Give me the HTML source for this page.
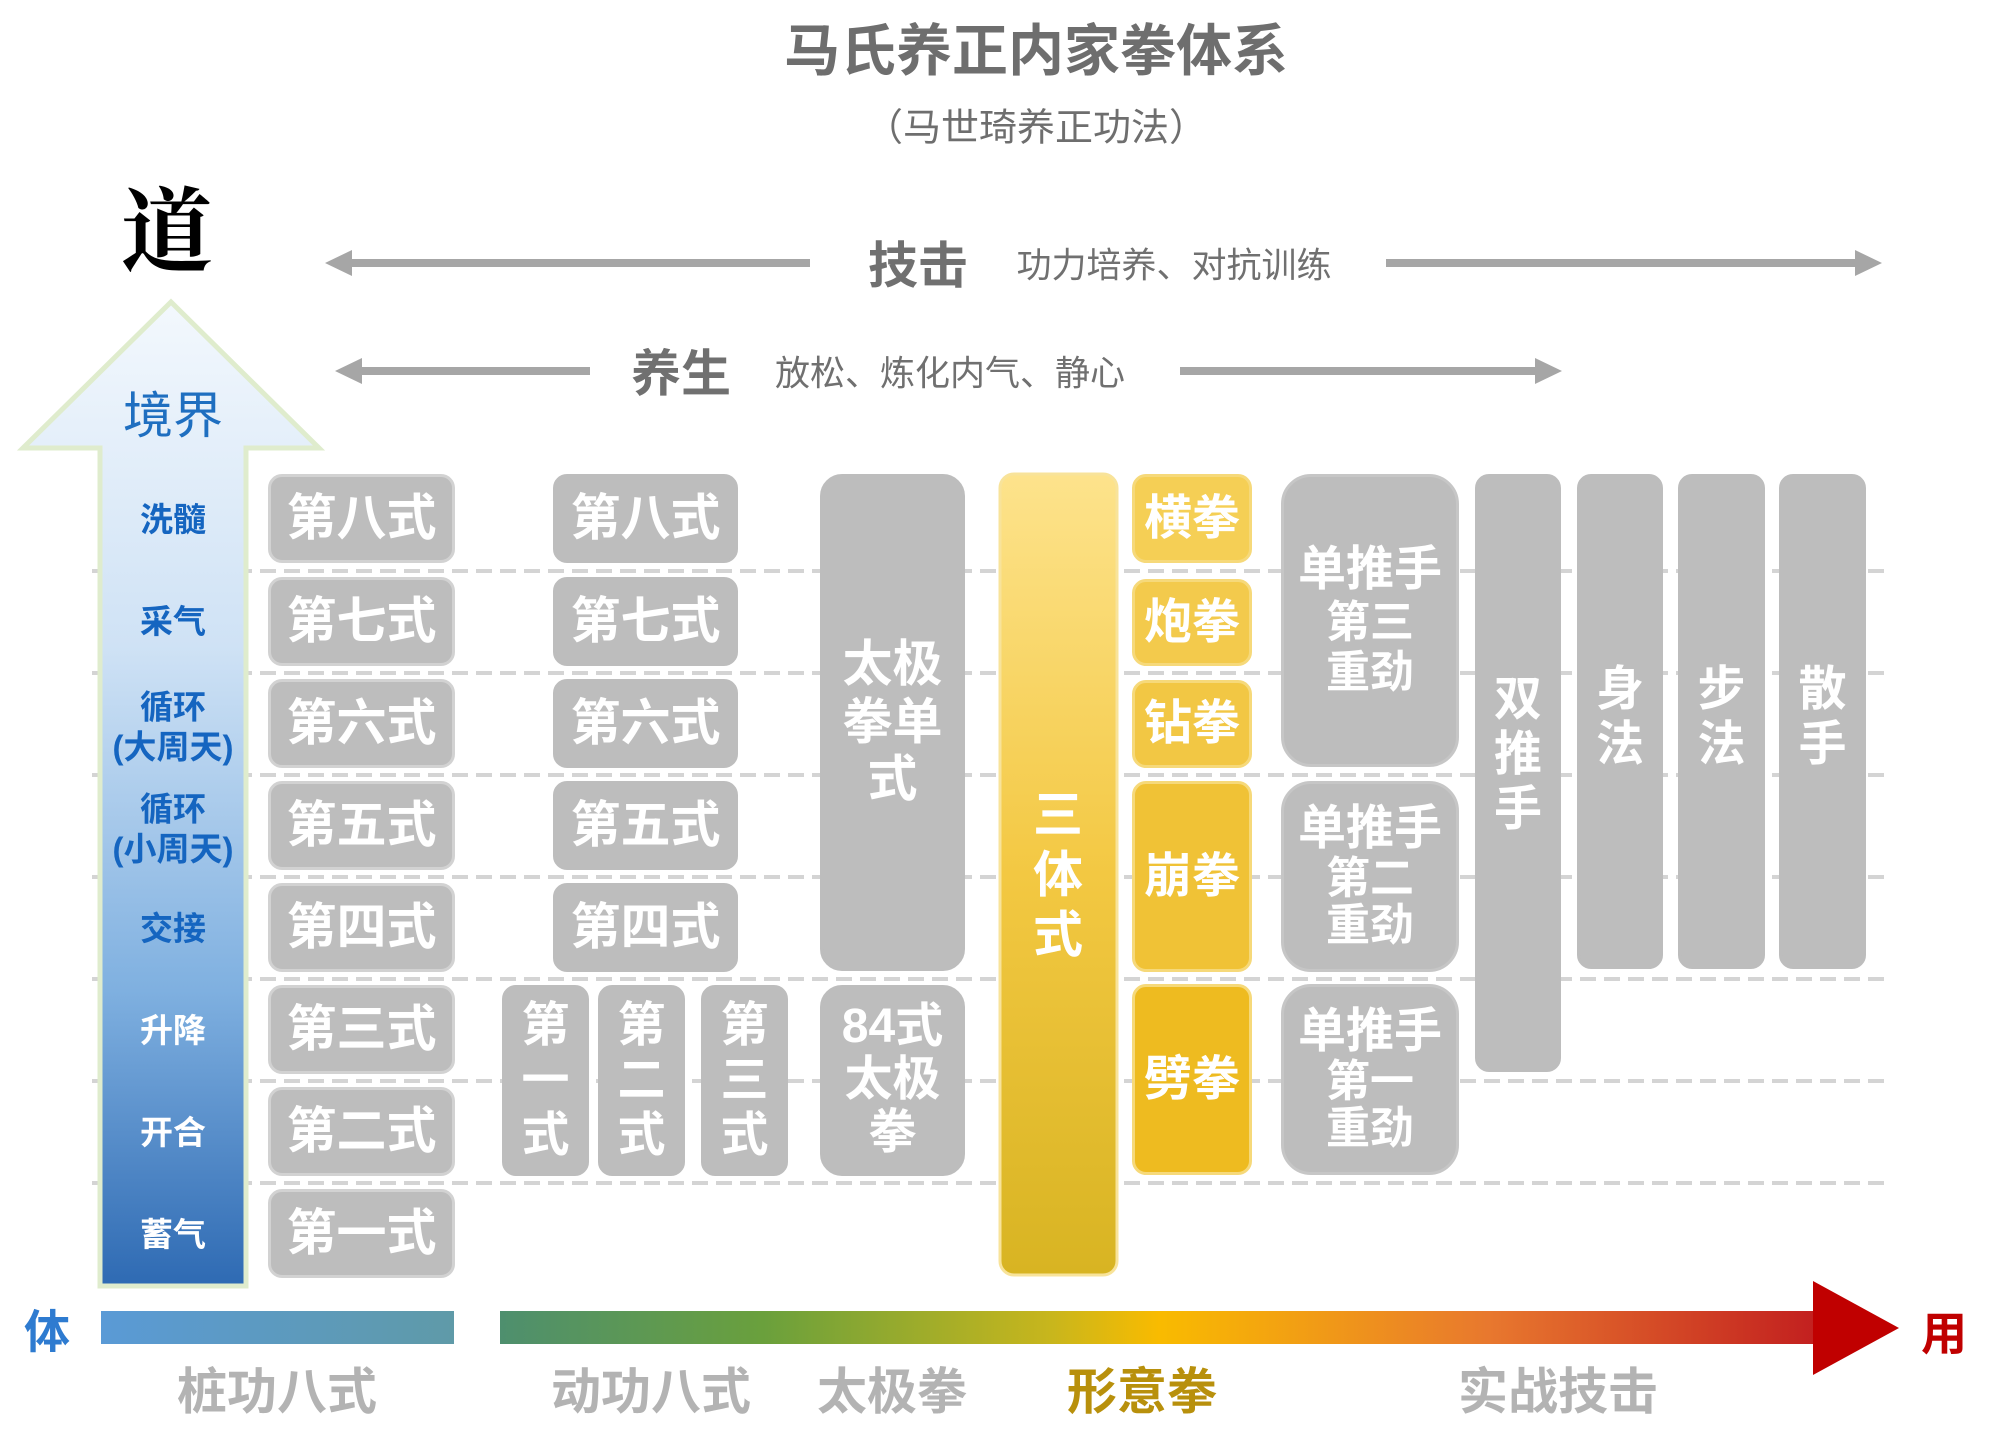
<!DOCTYPE html>
<html><head><meta charset="utf-8"><style>
body{margin:0;width:2000px;height:1430px;background:#fff;position:relative;overflow:hidden;font-family:"Liberation Sans","Noto Sans CJK SC",sans-serif}
.a{position:absolute}
.t{position:absolute;text-align:center;white-space:nowrap;transform:translate(-50%,-50%)}
.b{position:absolute;background:#bdbdbd;border:3px solid #d2d2d2;box-sizing:border-box;border-radius:14px;color:#fff;font-weight:bold;display:flex;align-items:center;justify-content:center;text-align:center;line-height:1.15}
.y{background:#f0c233;border-color:#f6d97a}
.lab{position:absolute;left:173px;transform:translate(-50%,-50%);color:#1565c0;font-weight:bold;font-size:33px;text-align:center;line-height:1.2;white-space:nowrap}
.w{color:#fff}
</style></head><body>
<div class="t" style="left:1036px;top:47px;font-size:56px;font-weight:bold;color:#6e6e6e">马氏养正内家拳体系</div>
<div class="t" style="left:1036px;top:124px;font-size:38px;color:#6e6e6e">（马世琦养正功法）</div>
<div class="t" style="left:167px;top:225px;font-size:92px;font-weight:bold;color:#000;font-family:'Noto Serif CJK SC',serif">道</div>

<svg class="a" style="left:0;top:0" width="2000" height="1430">
<defs>
<linearGradient id="bl" x1="0" y1="0" x2="0" y2="1"><stop offset="0" stop-color="#f3f8fd"/><stop offset="0.35" stop-color="#cfe2f5"/><stop offset="0.7" stop-color="#7fb0e0"/><stop offset="1" stop-color="#2e6ab3"/></linearGradient>
<linearGradient id="gr" x1="0" y1="0" x2="1" y2="0"><stop offset="0" stop-color="#4e8f6e"/><stop offset="0.2" stop-color="#6aa03c"/><stop offset="0.42" stop-color="#c9b61c"/><stop offset="0.5" stop-color="#f9bb00"/><stop offset="0.75" stop-color="#e8782e"/><stop offset="1" stop-color="#c21f1f"/></linearGradient>
<linearGradient id="lb" x1="0" y1="0" x2="1" y2="0"><stop offset="0" stop-color="#5a9ad6"/><stop offset="1" stop-color="#5f9aa8"/></linearGradient>
<linearGradient id="yl" x1="0" y1="0" x2="0" y2="1"><stop offset="0" stop-color="#fde38c"/><stop offset="0.5" stop-color="#f3c842"/><stop offset="1" stop-color="#d8b422"/></linearGradient>
</defs>
<line x1="345" y1="263" x2="810" y2="263" stroke="#a6a6a6" stroke-width="8"/>
<polygon points="325,263 352,250 352,276" fill="#a6a6a6"/>
<line x1="1386" y1="263" x2="1860" y2="263" stroke="#a6a6a6" stroke-width="8"/>
<polygon points="1882,263 1855,250 1855,276" fill="#a6a6a6"/>
<line x1="355" y1="371" x2="590" y2="371" stroke="#a6a6a6" stroke-width="8"/>
<polygon points="335,371 362,358 362,384" fill="#a6a6a6"/>
<line x1="1180" y1="371" x2="1540" y2="371" stroke="#a6a6a6" stroke-width="8"/>
<polygon points="1562,371 1535,358 1535,384" fill="#a6a6a6"/>
<g stroke="#d4d4d4" stroke-width="4" stroke-dasharray="16,8">
<line x1="92" y1="571" x2="1890" y2="571"/><line x1="92" y1="673" x2="1890" y2="673"/><line x1="92" y1="775" x2="1890" y2="775"/><line x1="92" y1="877" x2="1890" y2="877"/><line x1="92" y1="979" x2="1890" y2="979"/><line x1="92" y1="1081" x2="1890" y2="1081"/><line x1="92" y1="1183" x2="1890" y2="1183"/>
</g>
<polygon points="171,302 319,448 246,448 246,1286 100,1286 100,448 23,448" fill="url(#bl)" stroke="#dfeccd" stroke-width="5"/>
<rect x="101" y="1311" width="353" height="33" fill="url(#lb)"/>
<rect x="500" y="1311" width="1318" height="33" fill="url(#gr)"/>
<polygon points="1813,1281 1899,1328 1813,1375" fill="#c00000"/>
<rect x="1000" y="474" width="117" height="801" rx="14" fill="url(#yl)" stroke="#f8e39a" stroke-width="3"/>
</svg>

<div class="t" style="left:918px;top:262px;font-size:50px;font-weight:bold;color:#707070">技击</div>
<div class="t" style="left:1174px;top:263px;font-size:35px;color:#707070">功力培养、对抗训练</div>
<div class="t" style="left:681px;top:370px;font-size:50px;font-weight:bold;color:#707070">养生</div>
<div class="t" style="left:950px;top:371px;font-size:35px;color:#707070">放松、炼化内气、静心</div>
<div class="t" style="left:173px;top:412px;font-size:50px;color:#1f6fc0">境界</div>

<div class="lab" style="top:520px">洗髓</div>
<div class="lab" style="top:622px">采气</div>
<div class="lab" style="top:727px">循环<br>(大周天)</div>
<div class="lab" style="top:829px">循环<br>(小周天)</div>
<div class="lab" style="top:929px">交接</div>
<div class="lab w" style="top:1031px">升降</div>
<div class="lab w" style="top:1133px">开合</div>
<div class="lab w" style="top:1235px">蓄气</div>

<div class="b" style="left:268px;top:474px;width:187px;height:89px;font-size:50px">第八式</div>
<div class="b" style="left:268px;top:577px;width:187px;height:89px;font-size:50px">第七式</div>
<div class="b" style="left:268px;top:679px;width:187px;height:89px;font-size:50px">第六式</div>
<div class="b" style="left:268px;top:781px;width:187px;height:89px;font-size:50px">第五式</div>
<div class="b" style="left:268px;top:883px;width:187px;height:89px;font-size:50px">第四式</div>
<div class="b" style="left:268px;top:985px;width:187px;height:89px;font-size:50px">第三式</div>
<div class="b" style="left:268px;top:1087px;width:187px;height:89px;font-size:50px">第二式</div>
<div class="b" style="left:268px;top:1189px;width:187px;height:89px;font-size:50px">第一式</div>

<div class="b" style="left:553px;top:474px;width:185px;height:89px;font-size:50px;border-color:#bdbdbd">第八式</div>
<div class="b" style="left:553px;top:577px;width:185px;height:89px;font-size:50px;border-color:#bdbdbd">第七式</div>
<div class="b" style="left:553px;top:679px;width:185px;height:89px;font-size:50px;border-color:#bdbdbd">第六式</div>
<div class="b" style="left:553px;top:781px;width:185px;height:89px;font-size:50px;border-color:#bdbdbd">第五式</div>
<div class="b" style="left:553px;top:883px;width:185px;height:89px;font-size:50px;border-color:#bdbdbd">第四式</div>

<div class="b" style="left:502px;top:985px;width:87px;height:191px;font-size:48px;border-color:#bdbdbd">第<br>一<br>式</div>
<div class="b" style="left:598px;top:985px;width:87px;height:191px;font-size:48px;border-color:#bdbdbd">第<br>二<br>式</div>
<div class="b" style="left:701px;top:985px;width:87px;height:191px;font-size:48px;border-color:#bdbdbd">第<br>三<br>式</div>

<div class="b" style="left:820px;top:474px;width:145px;height:497px;font-size:50px;border-color:#bdbdbd;border-radius:22px">太极<br>拳单<br>式</div>
<div class="b" style="left:820px;top:985px;width:145px;height:191px;font-size:48px;border-color:#bdbdbd;border-radius:22px;line-height:1.1">84式<br>太极<br>拳</div>

<div class="t" style="left:1058px;top:875px;font-size:50px;font-weight:bold;color:#fff;line-height:1.2">三<br>体<br>式</div>

<div class="b y" style="left:1132px;top:474px;width:120px;height:89px;font-size:48px;background:#f5cf55">横拳</div>
<div class="b y" style="left:1132px;top:579px;width:120px;height:87px;font-size:48px;background:#f3ca4c">炮拳</div>
<div class="b y" style="left:1132px;top:680px;width:120px;height:88px;font-size:48px;background:#f2c744">钻拳</div>
<div class="b y" style="left:1132px;top:781px;width:120px;height:191px;font-size:48px;background:#f0c236">崩拳</div>
<div class="b y" style="left:1132px;top:984px;width:120px;height:191px;font-size:48px;background:#eebb20">劈拳</div>

<div class="b" style="left:1281px;top:474px;width:178px;height:293px;border-radius:30px;flex-direction:column;font-size:48px;border-color:#c6c6c6"><div>单推手</div><div style="font-size:44px">第三<br>重劲</div></div>
<div class="b" style="left:1281px;top:781px;width:178px;height:191px;border-radius:30px;flex-direction:column;font-size:48px;border-color:#c6c6c6;line-height:1.08"><div>单推手</div><div style="font-size:44px">第二<br>重劲</div></div>
<div class="b" style="left:1281px;top:984px;width:178px;height:191px;border-radius:30px;flex-direction:column;font-size:48px;border-color:#c6c6c6;line-height:1.08"><div>单推手</div><div style="font-size:44px">第一<br>重劲</div></div>

<div class="b" style="left:1475px;top:474px;width:86px;height:598px;font-size:48px;border-color:#bdbdbd;align-items:flex-start;padding-top:195px">双<br>推<br>手</div>
<div class="b" style="left:1577px;top:474px;width:86px;height:495px;font-size:48px;border-color:#bdbdbd;align-items:flex-start;padding-top:185px">身<br>法</div>
<div class="b" style="left:1678px;top:474px;width:87px;height:495px;font-size:48px;border-color:#bdbdbd;align-items:flex-start;padding-top:185px">步<br>法</div>
<div class="b" style="left:1779px;top:474px;width:87px;height:495px;font-size:48px;border-color:#bdbdbd;align-items:flex-start;padding-top:185px">散<br>手</div>

<div class="t" style="left:47px;top:1329px;font-size:46px;font-weight:bold;color:#2e7bd0">体</div>
<div class="t" style="left:1944px;top:1331px;font-size:46px;font-weight:bold;color:#c00000">用</div>

<div class="t" style="left:277px;top:1388px;font-size:50px;font-weight:bold;color:#b3b3b3">桩功八式</div>
<div class="t" style="left:651px;top:1388px;font-size:50px;font-weight:bold;color:#b3b3b3">动功八式</div>
<div class="t" style="left:892px;top:1388px;font-size:50px;font-weight:bold;color:#b3b3b3">太极拳</div>
<div class="t" style="left:1142px;top:1388px;font-size:50px;font-weight:bold;color:#b8900c">形意拳</div>
<div class="t" style="left:1558px;top:1388px;font-size:50px;font-weight:bold;color:#b3b3b3">实战技击</div>
</body></html>
